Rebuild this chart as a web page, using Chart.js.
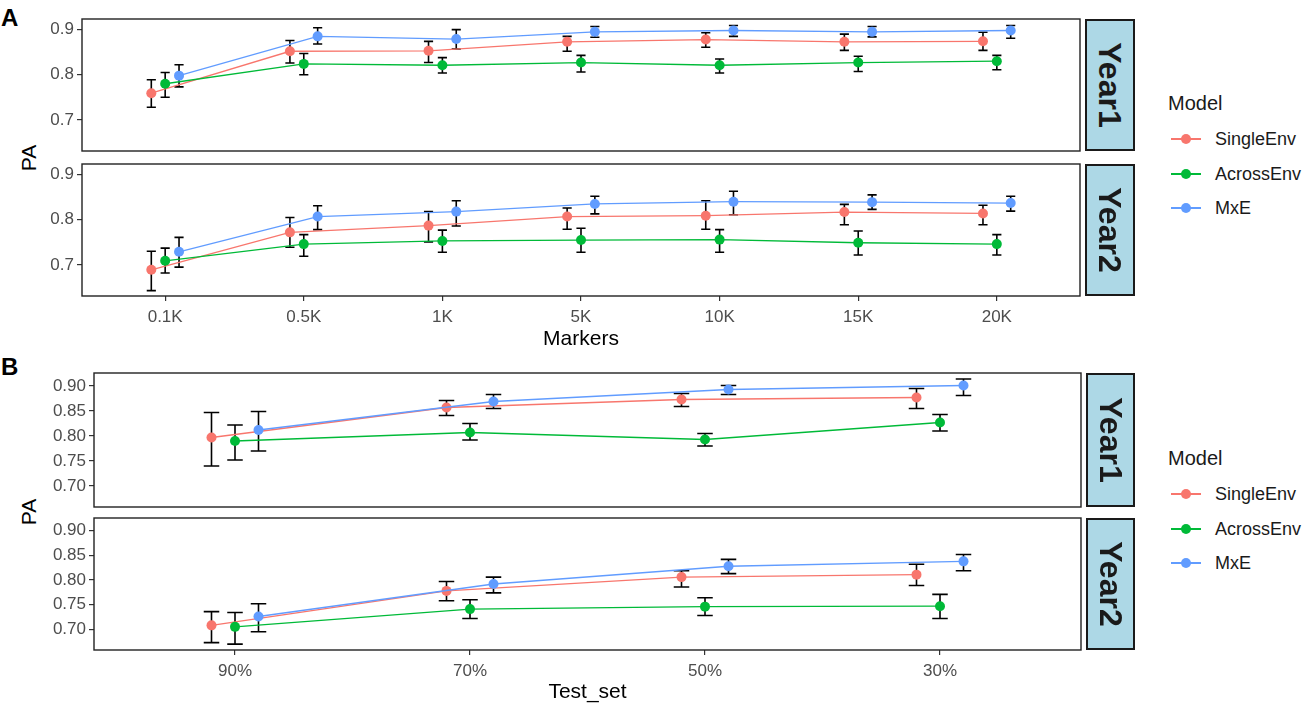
<!DOCTYPE html>
<html><head><meta charset="utf-8">
<script src="https://cdn.jsdelivr.net/npm/chart.js@4.4.1/dist/chart.umd.min.js"></script>
<style>
body{margin:0;width:1312px;height:712px;background:#fff;position:relative;overflow:hidden;font-family:"Liberation Sans",Arial,sans-serif;}
.box{position:absolute;left:0;}
.strip{position:absolute;background:#ADD8E6;border:2px solid #1a1a1a;box-sizing:border-box;}
.strip span{position:absolute;left:50%;top:50%;transform:translate(-50%,-50%) rotate(90deg);font-weight:bold;font-size:32px;color:#1a1a1a;white-space:nowrap;line-height:1;}
.tag{position:absolute;font-weight:bold;font-size:24px;color:#000;line-height:1;}
.ylab{position:absolute;font-size:21px;color:#000;transform:translate(-50%,-50%) rotate(-90deg);white-space:nowrap;line-height:1;}
.leg{position:absolute;left:1168px;}
.leg .t{position:absolute;left:0;font-size:20px;color:#1a1a1a;white-space:nowrap;line-height:1;transform:translateY(-50%);}
.leg .it{position:absolute;left:0;height:0;}
.leg .ln{position:absolute;left:3px;width:30px;height:1.4px;top:-0.7px;}
.leg .dt{position:absolute;left:13px;width:10px;height:10px;border-radius:50%;top:-5px;}
.leg .lb{position:absolute;left:47px;font-size:18px;color:#1a1a1a;white-space:nowrap;line-height:1;transform:translateY(-50%);}
</style></head>
<body>
<div class="tag" style="left:1px;top:6px">A</div>
<div class="tag" style="left:1px;top:355px">B</div>
<div class="ylab" style="left:28px;top:158px">PA</div>
<div class="ylab" style="left:28px;top:512px">PA</div>

<div class="box" style="top:3px;width:1085px;height:164px"><canvas id="cA1"></canvas></div>
<div class="box" style="top:148px;width:1085px;height:204px"><canvas id="cA2"></canvas></div>
<div class="box" style="top:357px;width:1086px;height:166px"><canvas id="cB1"></canvas></div>
<div class="box" style="top:502px;width:1086px;height:203px"><canvas id="cB2"></canvas></div>

<div class="strip" style="left:1085px;top:19px;width:50px;height:132px"><span>Year1</span></div>
<div class="strip" style="left:1085px;top:164px;width:50px;height:132px"><span>Year2</span></div>
<div class="strip" style="left:1086px;top:373px;width:49px;height:134px"><span>Year1</span></div>
<div class="strip" style="left:1086px;top:518px;width:49px;height:132px"><span>Year2</span></div>

<div id="legA" class="leg" style="top:0px"></div>
<div id="legB" class="leg" style="top:355px"></div>

<script>
// ---------- categories / labels ----------
const markerCats = ['0.1K','0.5K','1K','5K','10K','15K','20K'];
const testCats = ['90%','70%','50%','30%'];
const models = ['SingleEnv','AcrossEnv','MxE'];
const modelColors = ['#F8766D','#00BA38','#619CFF'];
const facetLabels = ['Year1','Year2'];
const yTicksA = [0.7,0.8,0.9];
const yTicksB = [0.70,0.75,0.80,0.85,0.90];

// ---------- Panel A, Year1 (Markers) ----------
const aY1SingleMean = [0.759,0.852,0.853,0.873,0.878,0.873,0.874];
const aY1SingleLo   = [0.728,0.826,0.827,0.852,0.861,0.854,0.854];
const aY1SingleHi   = [0.789,0.876,0.874,0.885,0.893,0.890,0.894];
const aY1AcrossMean = [0.780,0.824,0.821,0.827,0.821,0.827,0.830];
const aY1AcrossLo   = [0.750,0.800,0.804,0.806,0.804,0.807,0.811];
const aY1AcrossHi   = [0.805,0.847,0.838,0.843,0.835,0.841,0.843];
const aY1MxEMean    = [0.798,0.885,0.879,0.895,0.898,0.895,0.898];
const aY1MxELo      = [0.773,0.868,0.857,0.883,0.885,0.884,0.881];
const aY1MxEHi      = [0.822,0.904,0.900,0.907,0.909,0.907,0.909];

// ---------- Panel A, Year2 ----------
const aY2SingleMean = [0.689,0.772,0.787,0.807,0.809,0.817,0.814];
const aY2SingleLo   = [0.643,0.739,0.751,0.779,0.779,0.789,0.789];
const aY2SingleHi   = [0.730,0.805,0.818,0.826,0.842,0.834,0.832];
const aY2AcrossMean = [0.709,0.746,0.753,0.755,0.756,0.749,0.746];
const aY2AcrossLo   = [0.682,0.719,0.728,0.728,0.728,0.722,0.722];
const aY2AcrossHi   = [0.737,0.767,0.777,0.781,0.778,0.775,0.767];
const aY2MxEMean    = [0.729,0.807,0.818,0.835,0.840,0.839,0.837];
const aY2MxELo      = [0.695,0.778,0.786,0.813,0.811,0.823,0.819];
const aY2MxEHi      = [0.761,0.831,0.842,0.852,0.863,0.855,0.852];

// ---------- Panel B, Year1 (Test_set) ----------
const bY1SingleMean = [0.797,0.857,0.873,0.877];
const bY1SingleLo   = [0.740,0.841,0.859,0.855];
const bY1SingleHi   = [0.847,0.871,0.885,0.895];
const bY1AcrossMean = [0.790,0.807,0.793,0.827];
const bY1AcrossLo   = [0.752,0.792,0.780,0.810];
const bY1AcrossHi   = [0.822,0.825,0.805,0.843];
const bY1MxEMean    = [0.812,0.869,0.893,0.901];
const bY1MxELo      = [0.770,0.855,0.883,0.881];
const bY1MxEHi      = [0.849,0.883,0.901,0.914];

// ---------- Panel B, Year2 ----------
const bY2SingleMean = [0.708,0.778,0.806,0.811];
const bY2SingleLo   = [0.673,0.758,0.786,0.789];
const bY2SingleHi   = [0.736,0.797,0.819,0.832];
const bY2AcrossMean = [0.705,0.741,0.746,0.747];
const bY2AcrossLo   = [0.670,0.722,0.728,0.722];
const bY2AcrossHi   = [0.734,0.760,0.764,0.771];
const bY2MxEMean    = [0.726,0.792,0.828,0.838];
const bY2MxELo      = [0.695,0.774,0.813,0.819];
const bY2MxEHi      = [0.752,0.806,0.842,0.852];

// ---------- rendering ----------
Chart.defaults.font.family = "'Liberation Sans', Arial, sans-serif";
const dodge = [-0.1, 0, 0.1];
const capHalf = 0.033;

const errorBars = {
  id: 'errorBars',
  beforeDatasetsDraw(chart) {
    const {ctx, scales: {x, y}} = chart;
    ctx.save();
    ctx.strokeStyle = '#000';
    ctx.lineWidth = 1.6;
    chart.data.datasets.forEach(ds => {
      ds.data.forEach((pt, j) => {
        const px = x.getPixelForValue(pt.x);
        const hw = x.getPixelForValue(pt.x + capHalf) - px;
        const yl = y.getPixelForValue(ds.errLo[j]);
        const yh = y.getPixelForValue(ds.errHi[j]);
        ctx.beginPath();
        ctx.moveTo(px, yl); ctx.lineTo(px, yh);
        ctx.moveTo(px - hw, yl); ctx.lineTo(px + hw, yl);
        ctx.moveTo(px - hw, yh); ctx.lineTo(px + hw, yh);
        ctx.stroke();
      });
    });
    ctx.restore();
  }
};
const frame = {
  id: 'frame',
  afterDraw(chart) {
    const {ctx, chartArea: a} = chart;
    ctx.save();
    ctx.strokeStyle = '#222';
    ctx.lineWidth = 1.4;
    ctx.strokeRect(a.left, a.top, a.right - a.left, a.bottom - a.top);
    ctx.restore();
  }
};

function makePanel(id, cats, means, los, his, yMin, yMax, yTicks, dec, showX, xTitle, leftW, xH, padBottom) {
  const datasets = models.map((m, i) => ({
    label: m,
    data: means[i].map((v, j) => ({x: j + 1 + dodge[i], y: v})),
    errLo: los[i], errHi: his[i],
    borderColor: modelColors[i], backgroundColor: modelColors[i],
    borderWidth: 1.3, pointRadius: 5, pointHoverRadius: 5, pointBorderWidth: 0,
    tension: 0, order: 3 - i
  }));
  new Chart(document.getElementById(id), {
    type: 'line',
    data: {datasets},
    plugins: [errorBars, frame],
    options: {
      responsive: true, maintainAspectRatio: false, animation: false,
      layout: {padding: {top: 16, bottom: padBottom, left: 0, right: 0}},
      plugins: {legend: {display: false}, tooltip: {enabled: false}},
      scales: {
        x: {
          type: 'linear', min: 0.4, max: cats.length + 0.6,
          display: showX,
          afterBuildTicks: s => { s.ticks = cats.map((c, i) => ({value: i + 1})); },
          afterFit: s => { s.height = xH; },
          ticks: {callback: v => cats[Math.round(v) - 1], color: '#4D4D4D', font: {size: 17}, padding: 6, maxRotation: 0, autoSkip: false},
          grid: {drawOnChartArea: false, drawTicks: true, tickLength: 5, color: '#333', lineWidth: 1.2},
          border: {display: false},
          title: {display: true, text: xTitle, color: '#000', font: {size: 21}, padding: {top: 0, bottom: 0}}
        },
        y: {
          type: 'linear', min: yMin, max: yMax,
          afterBuildTicks: s => { s.ticks = yTicks.map(v => ({value: v})); },
          afterFit: s => { s.width = leftW; },
          ticks: {callback: v => Number(v).toFixed(dec), color: '#4D4D4D', font: {size: 17}, padding: 3},
          grid: {drawOnChartArea: false, drawTicks: true, tickLength: 5, color: '#333', lineWidth: 1.2},
          border: {display: false}
        }
      }
    }
  });
}

makePanel('cA1', markerCats,
  [aY1SingleMean, aY1AcrossMean, aY1MxEMean], [aY1SingleLo, aY1AcrossLo, aY1MxELo], [aY1SingleHi, aY1AcrossHi, aY1MxEHi],
  0.631, 0.9235, yTicksA, 1, false, 'Markers', 82, 0, 16);
makePanel('cA2', markerCats,
  [aY2SingleMean, aY2AcrossMean, aY2MxEMean], [aY2SingleLo, aY2AcrossLo, aY2MxELo], [aY2SingleHi, aY2AcrossHi, aY2MxEHi],
  0.631, 0.9235, yTicksA, 1, true, 'Markers', 82, 56, 0);
makePanel('cB1', testCats,
  [bY1SingleMean, bY1AcrossMean, bY1MxEMean], [bY1SingleLo, bY1AcrossLo, bY1MxELo], [bY1SingleHi, bY1AcrossHi, bY1MxEHi],
  0.658, 0.926, yTicksB, 2, false, 'Test_set', 94, 0, 16);
makePanel('cB2', testCats,
  [bY2SingleMean, bY2AcrossMean, bY2MxEMean], [bY2SingleLo, bY2AcrossLo, bY2MxELo], [bY2SingleHi, bY2AcrossHi, bY2MxEHi],
  0.658, 0.926, yTicksB, 2, true, 'Test_set', 94, 55, 0);

// legends
function buildLegend(id) {
  const el = document.getElementById(id);
  let h = '<div class="t" style="top:103px">Model</div>';
  const ys = [139, 174, 208];
  models.forEach((m, i) => {
    h += '<div class="it" style="top:' + ys[i] + 'px"><div class="ln" style="background:' + modelColors[i] + '"></div>' +
         '<div class="dt" style="background:' + modelColors[i] + '"></div><div class="lb">' + m + '</div></div>';
  });
  el.innerHTML = h;
}
buildLegend('legA');
buildLegend('legB');
</script>
</body></html>
